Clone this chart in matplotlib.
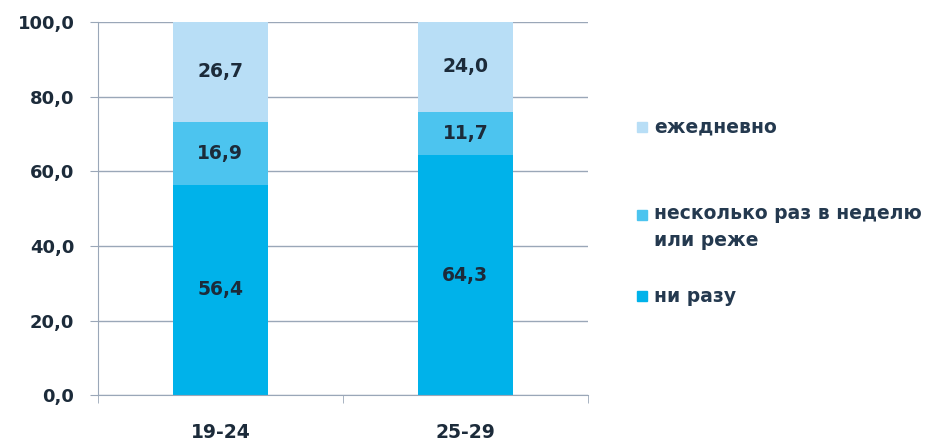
import matplotlib.pyplot as plt
from matplotlib.patches import Rectangle
import numpy as np

plt.rcParams['font.family'] = ['DejaVu Sans']

groups = ['19-24', '25-29']
series = ['ни разу', 'несколько раз в неделю\nили реже', 'ежедневно']
values = [[56.4, 64.3],
          [16.9, 11.7],
          [26.7, 24.0]]
colors = ['#00b2ea', '#4cc4ef', '#b8def6']
yticks = [0, 20, 40, 60, 80, 100]

txt = '#1c2b3a'
grid = '#9aa7b8'

fig = plt.figure(figsize=(9.33, 4.41), dpi=100)
ax = fig.add_axes([0.105, 0.104, 0.525, 0.846])

x = np.arange(len(groups))
bottom = np.zeros(len(groups))
for vals, c in zip(values, colors):
    v = np.array(vals)
    ax.bar(x, v, width=0.39, bottom=bottom, color=c, zorder=2)
    for xi, b, h in zip(x, bottom, v):
        ax.text(xi, b + h / 2, f'{h:.1f}'.replace('.', ','), ha='center', va='center',
                fontsize=13.5, fontweight='bold', color=txt, zorder=3)
    bottom += v

ax.set_xlim(-0.5, len(groups) - 0.5)
ax.set_ylim(0, 100)
ax.set_yticks(yticks)
ax.set_yticklabels([f'{t:.1f}'.replace('.', ',') for t in yticks])
ax.set_xticks(x)
ax.set_xticklabels(groups)
ax.set_xticks([-0.5, 0.5, 1.5], minor=True)
ax.tick_params(axis='x', which='major', length=0, pad=20, labelsize=13.5, labelcolor=txt)
ax.tick_params(axis='x', which='minor', length=6, color=grid)
ax.tick_params(axis='y', length=6, color=grid, labelsize=13, labelcolor=txt, pad=11)
for lbl in ax.get_xticklabels() + ax.get_yticklabels():
    lbl.set_fontweight('bold')

ax.grid(axis='y', color=grid, linewidth=1, zorder=0)
for s in ['top', 'right']:
    ax.spines[s].set_visible(False)
ax.spines['left'].set_color(grid)
ax.spines['bottom'].set_color(grid)

# legend, drawn by hand in figure coordinates (marker sits on the first text line)
leg_y = [127, 215, 296]
order = [2, 1, 0]
for yy, i in zip(leg_y, order):
    yf = 1 - yy / 441
    fig.add_artist(Rectangle((637 / 933, yf - 5 / 441), 10 / 933, 10 / 441,
                             transform=fig.transFigure, color=colors[i]))
    if '\n' in series[i]:
        fig.text(654 / 933, yf + 11 / 441, series[i], va='top', fontsize=13.5,
                 fontweight='bold', color='#24394f', linespacing=1.55)
    else:
        fig.text(654 / 933, yf, series[i], va='center', fontsize=13.5,
                 fontweight='bold', color='#24394f')

fig.savefig('out.png', dpi=100)
